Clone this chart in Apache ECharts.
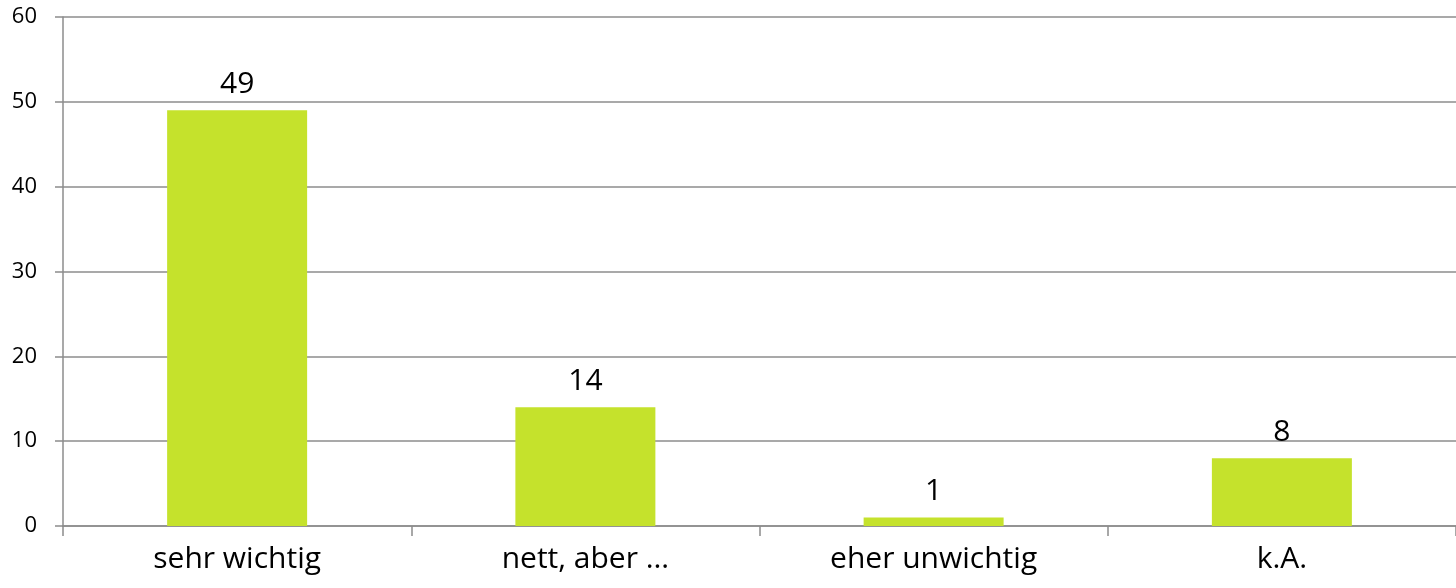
<!DOCTYPE html>
<html>
<head>
<meta charset="utf-8">
<script src="https://cdn.jsdelivr.net/npm/echarts@6/dist/echarts.min.js"></script>
<style>
  html, body { margin: 0; padding: 0; background: #fff; }
  #chart { width: 1456px; height: 588px; }
</style>
</head>
<body>
<div id="chart"></div>
<script>
const categories = ['sehr wichtig', 'nett, aber …', 'eher unwichtig', 'k.A.'];
const counts = [49, 14, 1, 8];
const yTicks = { min: 0, max: 60, step: 10 };

const chart = echarts.init(document.getElementById('chart'));
const font = '"Open Sans", "Liberation Sans", sans-serif';
const gridGray = '#8c8c8c';

chart.setOption({
  animation: false,
  grid: { left: 63, right: -3, top: 17, bottom: 62 },
  xAxis: {
    type: 'category',
    data: categories,
    axisLine: { lineStyle: { color: gridGray, width: 1.5 } },
    axisTick: { show: true, length: 10, lineStyle: { color: gridGray, width: 1.5 } },
    axisLabel: { color: '#000', fontSize: 30, fontFamily: font, margin: 18 }
  },
  yAxis: {
    type: 'value',
    min: yTicks.min,
    max: yTicks.max,
    interval: yTicks.step,
    axisLine: { show: true, lineStyle: { color: gridGray, width: 1.5 } },
    axisTick: { show: true, length: 8, lineStyle: { color: gridGray, width: 1.5 } },
    splitLine: { lineStyle: { color: gridGray, width: 1.5 } },
    axisLabel: { color: '#000', fontSize: 22, fontFamily: font, margin: 26 }
  },
  series: [{
    type: 'bar',
    data: counts,
    barWidth: 140,
    itemStyle: { color: '#c5e22c' },
    label: {
      show: true,
      position: 'top',
      distance: 11,
      color: '#000',
      fontSize: 30,
      fontFamily: font
    }
  }]
});
</script>
</body>
</html>
